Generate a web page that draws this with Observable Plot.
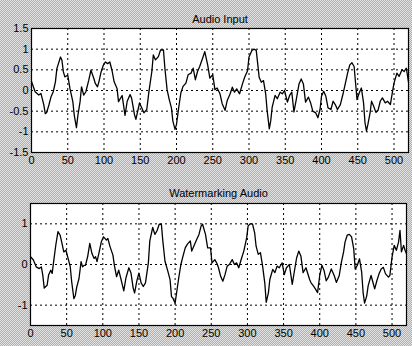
<!DOCTYPE html>
<html><head><meta charset="utf-8">
<script src="https://cdn.jsdelivr.net/npm/d3@7"></script>
<script src="https://cdn.jsdelivr.net/npm/@observablehq/plot@0.6"></script>
<style>
html,body{margin:0;padding:0;}
body{width:412px;height:346px;overflow:hidden;position:relative;background-color:#c8c8c8;
background-image:repeating-conic-gradient(#b0b0b0 0 25%, #e2e2e2 0 50%);background-size:2px 2px;
font-family:"Liberation Sans",Arial,sans-serif;}
#top,#bot{position:absolute;left:0;}
#top{top:0;}
#bot{top:173px;}
</style></head>
<body>
<div id="top"></div>
<div id="bot"></div>
<script>
const titles = ["Audio Input", "Watermarking Audio"];
const xTicks = [0, 50, 100, 150, 200, 250, 300, 350, 400, 450, 500];
const xGrid = [50, 100, 150, 200, 250, 300, 350, 400, 450, 500];
const topYTicks = [-1.5, -1, -0.5, 0, 0.5, 1, 1.5];
const topYGrid = [-1, -0.5, 0, 0.5, 1];
const botYTicks = [-1, 0, 1];

const topT = [0,5,10,13,17,19,21,24,27,30,33,35,40,42,44,46,50,53,57,59,62,64,67,69,72,75,79,82,86,88,91,93,96,99,102,105,108,111,114,118,120,125,129,132,136,138,142,144,147,149,152,155,159,162,166,168,171,175,178,182,184,187,190,193,195,198,200,203,206,209,213,216,220,223,226,229,232,236,239,243,246,250,253,256,260,263,267,270,274,277,280,283,287,291,294,298,300,304,307,310,312,314,317,320,323,325,328,330,332,336,339,343,346,349,353,356,359,362,365,369,372,375,378,382,385,388,392,395,398,400,403,406,409,413,416,419,422,426,430,433,436,439,442,445,447,449,452,455,458,460,462,464,467,469,472,475,478,481,484,488,491,495,498,500,504,507,511,514,517,520];
const topV = [0.22,-0.03,-0.11,-0.07,-0.35,-0.56,-0.53,-0.35,-0.15,-0.03,0.21,0.53,0.81,0.73,0.45,0.33,0.37,0.05,-0.27,-0.6,-0.9,-0.6,-0.27,0.09,-0.11,-0.03,0.25,0.49,0.29,0.17,0.09,0.21,0.45,0.61,0.69,0.65,0.69,0.49,0.21,0.05,-0.27,-0.12,-0.6,-0.26,-0.1,-0.18,-0.58,-0.7,-0.46,-0.3,-0.42,-0.54,-0.46,-0.02,0.46,0.86,0.74,0.82,0.98,0.98,0.54,0.02,-0.22,-0.42,-0.74,-0.94,-0.82,-0.42,-0.06,0.1,0.18,0.38,0.42,0.54,0.26,0.46,0.58,0.78,0.94,0.62,0.3,0.38,0.02,0.06,-0.08,-0.32,-0.48,-0.24,-0.08,0.08,-0.04,0.04,-0.08,0.16,0.32,0.48,0.81,0.97,1.0,0.97,0.65,0.32,0.2,0.24,-0.08,-0.48,-0.93,-0.73,-0.4,-0.12,-0.2,-0.04,-0.08,0.0,-0.28,-0.12,-0.04,-0.52,-0.24,0.16,0.28,0.16,-0.28,-0.16,-0.3,-0.5,-0.54,-0.66,-0.46,-0.14,-0.02,-0.14,-0.42,-0.46,-0.26,-0.34,-0.46,-0.34,-0.06,0.18,0.42,0.62,0.67,0.58,0.18,-0.22,-0.06,0.06,-0.3,-0.78,-0.98,-0.82,-0.54,-0.26,-0.38,-0.53,-0.48,-0.26,-0.18,-0.3,-0.26,-0.34,-0.02,0.18,0.42,0.34,0.5,0.46,0.54,0.2];

const botT = [0,4,8,12,15,17,19,23,25,28,30,32,35,38,41,44,46,49,52,55,57,60,62,64,67,70,72,74,76,79,82,85,88,90,92,95,98,101,105,107,110,114,116,119,122,125,129,132,136,139,142,144,147,150,153,156,159,163,165,169,172,175,178,181,183,186,190,193,195,197,200,202,205,208,211,214,217,221,223,227,230,233,236,238,242,245,249,251,255,258,260,263,266,269,272,275,279,282,285,288,292,295,299,301,304,307,310,312,315,318,321,324,326,329,331,335,338,341,344,348,351,354,358,362,365,368,371,374,377,381,386,388,391,394,397,400,403,406,409,412,416,420,423,427,430,433,435,438,441,444,447,449,452,455,458,460,462,465,467,471,473,476,479,482,485,488,491,495,497,500,503,506,509,511,513,516,518,521];
const botV = [0.19,0.11,-0.06,-0.1,-0.06,-0.26,-0.58,-0.51,-0.26,-0.14,-0.22,0.07,0.48,0.81,0.72,0.48,0.31,0.35,0.15,-0.06,-0.43,-0.84,-0.76,-0.55,-0.35,0.07,-0.06,-0.02,-0.02,0.19,0.52,0.27,0.15,0.19,0.07,0.31,0.56,0.68,0.6,0.64,0.44,0.23,-0.02,-0.3,-0.14,-0.35,-0.65,-0.33,-0.08,-0.21,-0.58,-0.7,-0.41,-0.21,-0.45,-0.54,-0.45,0.04,0.58,0.91,0.74,0.83,0.99,0.99,0.58,0.08,-0.17,-0.37,-0.79,-0.83,-0.95,-0.7,-0.33,0.0,0.21,0.41,0.5,0.58,0.33,0.5,0.62,0.74,0.95,0.99,0.74,0.41,0.41,0.04,0.12,0.02,-0.08,-0.29,-0.41,-0.25,-0.04,0.0,0.12,0.0,0.04,-0.08,0.16,0.33,0.66,0.95,1.0,1.0,0.78,0.45,0.25,0.29,-0.04,-0.45,-0.93,-0.7,-0.37,-0.12,-0.2,-0.04,-0.08,0.04,-0.25,-0.08,0.0,-0.49,-0.16,0.16,0.33,0.2,-0.2,-0.08,-0.37,-0.45,-0.52,-0.6,-0.69,-0.27,-0.02,-0.15,-0.4,-0.31,-0.11,-0.27,-0.44,-0.27,0.06,0.31,0.55,0.72,0.74,0.68,0.39,-0.11,-0.02,0.14,-0.19,-0.69,-0.95,-0.77,-0.52,-0.27,-0.4,-0.6,-0.4,-0.23,-0.11,-0.07,-0.23,-0.31,-0.27,0.18,0.47,0.35,0.55,0.84,0.31,0.47,0.35,0.22];

const font = "'Liberation Sans', Arial, sans-serif";

function panel(title, T, V, yTicks, yGrid, m) {
  return Plot.plot({
    width: 412, height: 173,
    marginLeft: m.left, marginRight: m.right, marginTop: m.top, marginBottom: m.bottom,
    style: {background: "transparent", fontSize: "11px", fontFamily: font, color: "black", overflow: "visible"},
    x: {domain: [0, 520], ticks: xTicks, tickSize: 0, tickPadding: 4, label: null, tickFormat: d => String(d)},
    y: {domain: [-1.5, 1.5], ticks: yTicks, tickSize: 0, tickPadding: 3, label: null, tickFormat: d => String(d)},
    marks: [
      Plot.frame({fill: "white", stroke: null}),
      Plot.ruleX(xGrid, {stroke: "black", strokeWidth: 1, strokeDasharray: "2,3"}),
      Plot.ruleY(yGrid, {stroke: "black", strokeWidth: 1, strokeDasharray: "2,3"}),
      Plot.line(T, {x: T, y: V, stroke: "black", strokeWidth: 1.3, clip: true}),
      Plot.frame({stroke: "black", strokeWidth: 1.2}),
      Plot.text([title], {frameAnchor: "top", dy: m.titleDy, text: d => d, fontSize: 11, fill: "black"})
    ]
  });
}

document.getElementById("top").appendChild(
  panel(titles[0], topT, topV, topYTicks, topYGrid, {left: 31, right: 4, top: 28, bottom: 21, titleDy: -13}));
document.getElementById("bot").appendChild(
  panel(titles[1], botT, botV, botYTicks, botYTicks, {left: 30, right: 6, top: 30, bottom: 21, titleDy: -14}));
</script>
</body></html>
